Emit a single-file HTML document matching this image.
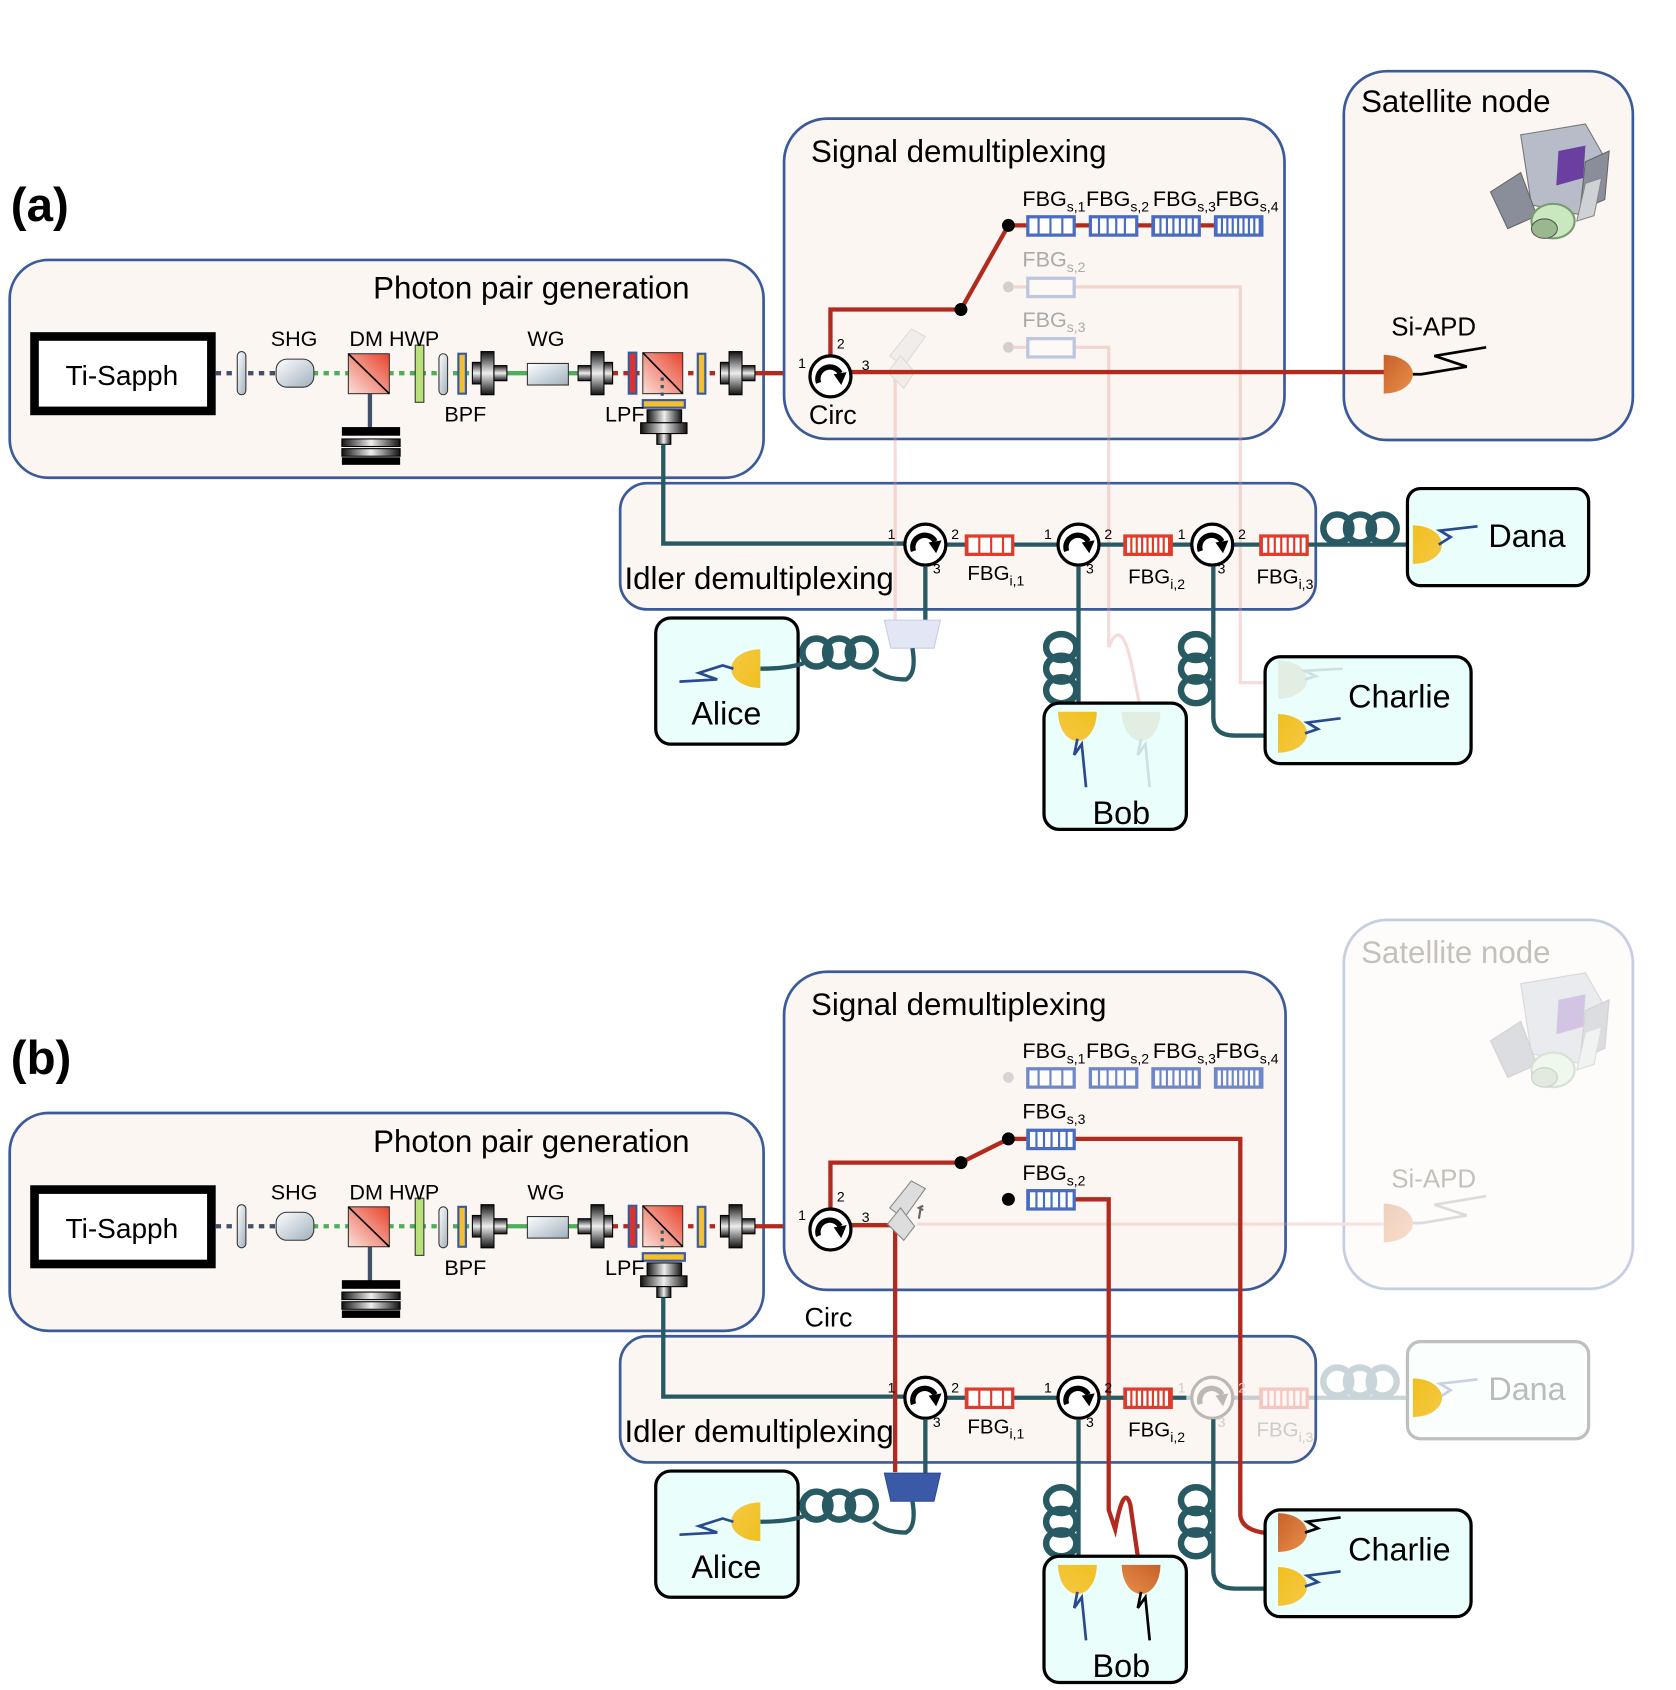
<!DOCTYPE html>
<html><head><meta charset="utf-8"><style>
html,body{margin:0;padding:0;background:#fff}
svg{display:block}
text{font-family:"Liberation Sans",sans-serif;fill:#000}
.t28{font-size:29px}.t20{font-size:20px}.t14{font-size:13px}
.gray{fill:#aaa}
</style></head><body>
<svg width="1676" height="1690" viewBox="0 0 1554 1567" preserveAspectRatio="none" xmlns="http://www.w3.org/2000/svg">
<defs>
<linearGradient id="cg" x1="0" y1="0" x2="0" y2="1"><stop offset="0" stop-color="#111"/><stop offset=".5" stop-color="#eee"/><stop offset="1" stop-color="#111"/></linearGradient>
<linearGradient id="hg" x1="0" y1="0" x2="1" y2="0"><stop offset="0" stop-color="#111"/><stop offset=".5" stop-color="#eee"/><stop offset="1" stop-color="#111"/></linearGradient>
<linearGradient id="cube" x1="0" y1="1" x2="1" y2="0"><stop offset="0" stop-color="#fbe0da"/><stop offset="1" stop-color="#e8432c"/></linearGradient>
<linearGradient id="lens" x1="0" y1="0" x2="1" y2="1"><stop offset="0" stop-color="#fff"/><stop offset="1" stop-color="#9fb0bd"/></linearGradient>
<linearGradient id="yel" x1="0" y1="0" x2="1" y2="1"><stop offset="0" stop-color="#f0c020"/><stop offset="1" stop-color="#f5c842"/></linearGradient>
<linearGradient id="org" x1="0" y1="0" x2="1" y2="1"><stop offset="0" stop-color="#c8602a"/><stop offset="1" stop-color="#e8904a"/></linearGradient>
<g id="coup"><rect x="0" y="-10" width="8" height="20" fill="url(#cg)" stroke="#000"/><rect x="8" y="-20" width="12" height="40" fill="url(#cg)" stroke="#000"/><rect x="20" y="-7" width="12" height="14" fill="url(#cg)" stroke="#000"/></g>
<g id="circ"><circle r="19" fill="#fff" stroke="#000" stroke-width="3"/><path d="M-11 6 A11 11 0 0 1 9 -3" fill="none" stroke="#000" stroke-width="5"/><path d="M3 -2 L15 -4 L10 8 Z" fill="#000"/></g>
<g id="hcoil" fill="none" stroke="#285a63" stroke-width="6"><ellipse cx="12" cy="0" rx="13" ry="13"/><ellipse cx="33" cy="0" rx="13" ry="13"/><ellipse cx="54" cy="0" rx="13" ry="13"/></g>
<g id="vcoil" fill="none" stroke="#285a63" stroke-width="6"><ellipse cx="0" cy="12" rx="14" ry="12"/><ellipse cx="0" cy="32" rx="14" ry="12"/><ellipse cx="0" cy="52" rx="14" ry="12"/></g>
<g id="photon">
 <rect x="9" y="241" width="699" height="202" rx="36" fill="#fcf6f2" stroke="#3a5a9a" stroke-width="2.5"/>
 <rect x="32" y="312" width="164" height="69" fill="#fff" stroke="#000" stroke-width="8"/>
 <line x1="200" y1="346" x2="255" y2="346" stroke="#445066" stroke-width="4" stroke-dasharray="5 5"/>
 <line x1="290" y1="346" x2="440" y2="346" stroke="#4caf5a" stroke-width="4" stroke-dasharray="5 5"/>
 <line x1="470" y1="346" x2="540" y2="346" stroke="#4caf5a" stroke-width="4"/>
 <line x1="568" y1="346" x2="668" y2="346" stroke="#b22a1e" stroke-width="4" stroke-dasharray="5 5"/>
 <line x1="700" y1="346" x2="752" y2="346" stroke="#b22a1e" stroke-width="4"/>
 <rect x="220" y="326" width="8" height="40" rx="4" fill="url(#lens)" stroke="#333"/>
 <rect x="256" y="333" width="35" height="26" rx="10" fill="url(#lens)" stroke="#333"/>
 <line x1="343" y1="350" x2="343" y2="398" stroke="#445066" stroke-width="4"/>
 <rect x="323" y="328" width="38" height="37" fill="url(#cube)" stroke="#333"/>
 <line x1="323" y1="328" x2="361" y2="365" stroke="#000" stroke-width="1.5"/>
 <rect x="317" y="396" width="54" height="8" fill="#000"/><rect x="317" y="407" width="54" height="7" fill="url(#hg)" stroke="#000"/><rect x="317" y="416" width="54" height="7" fill="url(#hg)" stroke="#000"/><rect x="317" y="424" width="54" height="7" fill="#000"/>
 <rect x="385" y="320" width="8" height="53" fill="#b9e07a" stroke="#333"/>
 <rect x="407" y="328" width="8" height="38" rx="4" fill="url(#lens)" stroke="#333"/>
 <rect x="425" y="328" width="7" height="37" fill="#f5c030" stroke="#3a5a9a" stroke-width="2"/>
 <use href="#coup" x="438" y="346"/>
 <rect x="489" y="337" width="38" height="20" fill="url(#lens)" stroke="#333"/>
 <use href="#coup" x="568" y="346" transform="rotate(180 568 346)"/>
 <rect x="583" y="327" width="7" height="38" fill="#e0302a" stroke="#3a5a9a" stroke-width="2"/>
 <rect x="596" y="327" width="37" height="38" fill="url(#cube)" stroke="#333"/>
 <line x1="596" y1="327" x2="633" y2="365" stroke="#000" stroke-width="1.5"/>
 <line x1="614" y1="350" x2="614" y2="370" stroke="#285a63" stroke-width="3" stroke-dasharray="3 4"/>
 <rect x="647" y="328" width="7" height="37" fill="#f5c030" stroke="#3a5a9a" stroke-width="2"/>
 <use href="#coup" x="668" y="346"/>
 <rect x="596" y="371" width="39" height="7" fill="#f5c030" stroke="#3a5a9a" stroke-width="2"/>
 <rect x="600" y="380" width="32" height="12" fill="url(#hg)" stroke="#000"/><rect x="594" y="392" width="43" height="10" fill="url(#hg)" stroke="#000"/><rect x="609" y="402" width="13" height="10" fill="url(#hg)" stroke="#000"/>
</g>
<g id="idlerbox">
 <rect x="575" y="448" width="645" height="117" rx="25" fill="#fcf6f2" stroke="#3a5a9a" stroke-width="2.5"/>
</g>
<g id="fbgb"><rect x="0" y="0" width="43" height="17" fill="#fff" stroke="#4a6cc0" stroke-width="3"/></g>
<g id="fbgr"><rect x="0" y="0" width="43" height="17" fill="#fff" stroke="#e03a2a" stroke-width="3"/></g>
<path id="det" d="M0 -18 A27 18 0 0 1 0 18 Z"/>
</defs>

<!-- ============ PANEL A ============ -->
<text x="10" y="205" style="font-size:44px;font-weight:bold">(a)</text>
<use href="#photon"/>
<text x="346" y="277" class="t28">Photon pair generation</text>
<text x="113" y="357" text-anchor="middle" style="font-size:26px">Ti-Sapph</text>
<text x="251" y="321" class="t20">SHG</text>
<text x="324" y="321" class="t20">DM HWP</text>
<text x="489" y="321" class="t20">WG</text>
<text x="412" y="391" class="t20">BPF</text>
<text x="561" y="391" class="t20">LPF</text>

<rect x="727" y="110" width="464" height="297" rx="40" fill="#fcf6f2" stroke="#3a5a9a" stroke-width="2.5"/>
<text x="752" y="150" class="t28">Signal demultiplexing</text>
<rect x="1246" y="66" width="268" height="342" rx="40" fill="#fcf6f2" stroke="#3a5a9a" stroke-width="2.5"/>
<text x="1262" y="104" class="t28">Satellite node</text>
<g id="sat">
<polygon points="1410,125 1470,115 1490,150 1470,200 1420,190" fill="#b8bcc8" stroke="#777"/>
<polygon points="1382,178 1410,160 1425,200 1398,212" fill="#8a8e9a" stroke="#666"/>
<polygon points="1470,150 1492,140 1488,185 1465,195" fill="#8a8e9a" stroke="#666"/>
<polygon points="1445,140 1470,135 1468,165 1443,172" fill="#6a3fa0"/>
<polygon points="1470,170 1485,165 1478,200 1462,205" fill="#cfd2d4" stroke="#888"/>
<ellipse cx="1440" cy="205" rx="20" ry="16" fill="#c9e8c0" stroke="#7a9a70" stroke-width="2"/>
<ellipse cx="1432" cy="212" rx="12" ry="9" fill="#9ab890" stroke="#555"/>
</g>
<text x="1290" y="311" style="font-size:24px">Si-APD</text>

<use href="#idlerbox"/>
<path d="M615 412 V504 H840" fill="none" stroke="#285a63" stroke-width="4"/>

<g opacity="0.35">
 <path d="M996 266 H1150 V633 H1185" fill="none" stroke="#e49a94" stroke-width="3"/>
 <path d="M996 322 H1028 V600 Q1040 570 1050 620 L1058 660" fill="none" stroke="#e49a94" stroke-width="3"/>
 <path d="M830 340 V575" fill="none" stroke="#e49a94" stroke-width="3"/>
 <circle cx="935" cy="266" r="5" fill="#888"/><circle cx="935" cy="322" r="5" fill="#888"/>
 <line x1="940" y1="266" x2="952" y2="266" stroke="#e49a94" stroke-width="3"/>
 <line x1="940" y1="322" x2="952" y2="322" stroke="#e49a94" stroke-width="3"/>
 <use href="#fbgb" x="953" y="258"/><use href="#fbgb" x="953" y="314"/>
 <polygon points="825,330 845,305 858,312 838,340" fill="#ddd" stroke="#aaa"/>
 <polygon points="823,345 835,330 848,345 838,360" fill="#ddd" stroke="#aaa"/>
</g>
<text x="948" y="247" class="t20 gray">FBG<tspan class="t14" dy="5">s,2</tspan></text>
<text x="948" y="303" class="t20 gray">FBG<tspan class="t14" dy="5">s,3</tspan></text>

<path d="M788 345 H1290" stroke="#b22a1e" stroke-width="4" fill="none"/>
<path d="M770 332 V287 H891 L935 209 H1170" stroke="#b22a1e" stroke-width="4" fill="none"/>
<circle cx="891" cy="287" r="6"/><circle cx="935" cy="209" r="6"/>
<use href="#fbgb" x="953" y="201"/><use href="#fbgb" x="1011" y="201"/><use href="#fbgb" x="1069" y="201"/><use href="#fbgb" x="1127" y="201"/>
<g stroke="#4a6cc0" stroke-width="2">
<line x1="963" y1="201" x2="963" y2="218"/><line x1="974" y1="201" x2="974" y2="218"/><line x1="985" y1="201" x2="985" y2="218"/>
<line x1="1019" y1="201" x2="1019" y2="218"/><line x1="1027" y1="201" x2="1027" y2="218"/><line x1="1035" y1="201" x2="1035" y2="218"/><line x1="1043" y1="201" x2="1043" y2="218"/>
</g>
<line x1="1069" y1="209.5" x2="1112" y2="209.5" stroke="#4a6cc0" stroke-width="15" stroke-dasharray="2 4"/>
<line x1="1127" y1="209.5" x2="1170" y2="209.5" stroke="#4a6cc0" stroke-width="15" stroke-dasharray="2 3"/>
<text x="948" y="191" class="t20">FBG<tspan class="t14" dy="5">s,1</tspan></text>
<text x="1007" y="191" class="t20">FBG<tspan class="t14" dy="5">s,2</tspan></text>
<text x="1069" y="191" class="t20">FBG<tspan class="t14" dy="5">s,3</tspan></text>
<text x="1127" y="191" class="t20">FBG<tspan class="t14" dy="5">s,4</tspan></text>
<use href="#circ" x="770" y="349"/>
<text x="740" y="341" style="font-size:13px">1</text><text x="776" y="323" style="font-size:13px">2</text><text x="799" y="343" style="font-size:13px">3</text>
<text x="750" y="393" style="font-size:25px">Circ</text>
<use href="#det" x="1283" y="347" fill="url(#org)"/>
<path d="M1310 347 H1318 L1360 340 L1330 330 L1378 322" fill="none" stroke="#000" stroke-width="2.5"/>

<!-- idler a -->
<path d="M840 505 H1310" stroke="#285a63" stroke-width="4"/>
<use href="#fbgr" x="896" y="497"/><use href="#fbgr" x="1043" y="497"/><use href="#fbgr" x="1169" y="497"/>
<line x1="896" y1="505.5" x2="939" y2="505.5" stroke="#e03a2a" stroke-width="15" stroke-dasharray="2 9"/>
<line x1="1043" y1="505.5" x2="1086" y2="505.5" stroke="#e03a2a" stroke-width="15" stroke-dasharray="2 3"/>
<line x1="1169" y1="505.5" x2="1212" y2="505.5" stroke="#e03a2a" stroke-width="15" stroke-dasharray="2 4"/>
<use href="#circ" x="858" y="505"/><use href="#circ" x="1000" y="505"/><use href="#circ" x="1124" y="505"/>
<g style="font-size:13px"><text x="823" y="500">1</text><text x="882" y="500">2</text><text x="865" y="532">3</text>
<text x="968" y="500">1</text><text x="1024" y="500">2</text><text x="1007" y="532">3</text>
<text x="1092" y="500">1</text><text x="1148" y="500">2</text><text x="1129" y="532">3</text></g>
<text x="897" y="538" style="font-size:19px">FBG<tspan class="t14" dy="5">i,1</tspan></text>
<text x="1046" y="541" style="font-size:19px">FBG<tspan class="t14" dy="5">i,2</tspan></text>
<text x="1165" y="541" style="font-size:19px">FBG<tspan class="t14" dy="5">i,3</tspan></text>
<text x="579" y="546" class="t28">Idler demultiplexing</text>
<use href="#hcoil" x="1228" y="490"/>
<rect x="1305" y="453" width="168" height="90" rx="12" fill="#eafffb" stroke="#000" stroke-width="3"/>
<use href="#det" x="1310" y="505" fill="url(#yel)"/>
<path d="M1334 505 L1345 498 L1335 492 L1370 488" fill="none" stroke="#2a4a90" stroke-width="2.5"/>
<text x="1380" y="507" style="font-size:30px">Dana</text>
<path d="M858 525 V575" stroke="#285a63" stroke-width="4"/>
<polygon points="820,575 872,575 866,601 826,601" fill="#e3e6f4" stroke="#c8cde6"/>
<path d="M846 601 Q850 625 840 630 Q820 630 810 620" fill="none" stroke="#285a63" stroke-width="4"/>
<use href="#hcoil" x="745" y="605"/>
<rect x="608" y="573" width="132" height="117" rx="14" fill="#eafffb" stroke="#000" stroke-width="3"/>
<path d="M745 615 Q730 620 705 620" fill="none" stroke="#285a63" stroke-width="4"/>
<use href="#det" x="705" y="620" fill="url(#yel)" transform="rotate(180 705 620)"/>
<path d="M680 620 L670 617 L648 624 L665 630 L630 632" fill="none" stroke="#2a4a90" stroke-width="2.5"/>
<text x="641" y="672" style="font-size:30px">Alice</text>
<path d="M1000 525 V660" stroke="#285a63" stroke-width="4"/>
<use href="#vcoil" x="984" y="588"/>
<rect x="968" y="652" width="132" height="117" rx="14" fill="#eafffb" stroke="#000" stroke-width="3"/>
<use href="#det" x="999" y="660" fill="url(#yel)" transform="rotate(90 999 660)"/>
<path d="M999 685 L996 700 L1003 690 L1007 730" fill="none" stroke="#2a4a90" stroke-width="2.5"/>
<g opacity="0.35"><use href="#det" x="1058" y="660" fill="#d8d0b8" transform="rotate(90 1058 660)"/><path d="M1058 685 L1055 700 L1062 690 L1066 730" fill="none" stroke="#9ab" stroke-width="2.5"/></g>
<text x="1013" y="764" style="font-size:30px">Bob</text>
<path d="M1125 525 V665 Q1125 682 1145 682 H1185" fill="none" stroke="#285a63" stroke-width="4"/>
<use href="#vcoil" x="1109" y="588"/>
<rect x="1173" y="609" width="191" height="99" rx="14" fill="#eafffb" stroke="#000" stroke-width="3"/>
<g opacity="0.35"><use href="#det" x="1185" y="630" fill="#d8d0b8"/><path d="M1210 630 L1220 627 L1210 622 L1245 620" fill="none" stroke="#9ab" stroke-width="2.5"/></g>
<use href="#det" x="1185" y="680" fill="url(#yel)"/>
<path d="M1210 680 L1222 676 L1212 670 L1243 666" fill="none" stroke="#2a4a90" stroke-width="2.5"/>
<text x="1250" y="656" style="font-size:30px">Charlie</text>

<!-- ============ PANEL B ============ -->
<text x="10" y="996" style="font-size:44px;font-weight:bold">(b)</text>
<use href="#photon" y="791"/>
<text x="346" y="1068" class="t28">Photon pair generation</text>
<text x="113" y="1148" text-anchor="middle" style="font-size:26px">Ti-Sapph</text>
<text x="251" y="1112" class="t20">SHG</text>
<text x="324" y="1112" class="t20">DM HWP</text>
<text x="489" y="1112" class="t20">WG</text>
<text x="412" y="1182" class="t20">BPF</text>
<text x="561" y="1182" class="t20">LPF</text>

<rect x="727" y="901" width="465" height="295" rx="40" fill="#fcf6f2" stroke="#3a5a9a" stroke-width="2.5"/>
<text x="752" y="941" class="t28">Signal demultiplexing</text>
<g opacity="0.3">
<rect x="1246" y="853" width="268" height="342" rx="40" fill="#fcf6f2" stroke="#3a5a9a" stroke-width="2.5"/>
<use href="#sat" y="787"/>
<use href="#det" x="1283" y="1134" fill="url(#org)"/>
<path d="M1310 1134 H1318 L1360 1127 L1330 1117 L1378 1109" fill="none" stroke="#888" stroke-width="2.5"/>
<path d="M850 1135 H1283" stroke="#e49a94" stroke-width="3"/>
</g>
<text x="1262" y="893" class="t28" style="fill:#c4c0bc">Satellite node</text>
<text x="1290" y="1101" style="font-size:24px;fill:#c4c0bc">Si-APD</text>
<g opacity="0.8">
<use href="#fbgb" x="953" y="991"/><use href="#fbgb" x="1011" y="991"/><use href="#fbgb" x="1069" y="991"/><use href="#fbgb" x="1127" y="991"/>
<g stroke="#4a6cc0" stroke-width="2">
<line x1="963" y1="991" x2="963" y2="1008"/><line x1="974" y1="991" x2="974" y2="1008"/><line x1="985" y1="991" x2="985" y2="1008"/>
<line x1="1019" y1="991" x2="1019" y2="1008"/><line x1="1027" y1="991" x2="1027" y2="1008"/><line x1="1035" y1="991" x2="1035" y2="1008"/><line x1="1043" y1="991" x2="1043" y2="1008"/></g>
<line x1="1069" y1="999.5" x2="1112" y2="999.5" stroke="#4a6cc0" stroke-width="15" stroke-dasharray="2 4"/>
<line x1="1127" y1="999.5" x2="1170" y2="999.5" stroke="#4a6cc0" stroke-width="15" stroke-dasharray="2 3"/>
<circle cx="935" cy="999" r="5" fill="#ccc"/>
</g>
<g class="t20 gray"><text x="948" y="981">FBG<tspan class="t14" dy="5">s,1</tspan></text><text x="1007" y="981">FBG<tspan class="t14" dy="5">s,2</tspan></text><text x="1069" y="981">FBG<tspan class="t14" dy="5">s,3</tspan></text><text x="1127" y="981">FBG<tspan class="t14" dy="5">s,4</tspan></text></g>

<use href="#idlerbox" y="791"/>
<path d="M615 1203 V1295 H840" fill="none" stroke="#285a63" stroke-width="4"/>

<path d="M770 1122 V1078 H891 L935 1056 H952" stroke="#b22a1e" stroke-width="4" fill="none"/>
<circle cx="891" cy="1078" r="6"/><circle cx="935" cy="1056" r="6"/><circle cx="935" cy="1112" r="6"/>
<path d="M996 1056 H1150 V1405 Q1152 1422 1185 1422" stroke="#b22a1e" stroke-width="4" fill="none"/>
<path d="M996 1112 H1028 V1400 L1034 1418 Q1042 1375 1048 1395 L1056 1450" stroke="#b22a1e" stroke-width="4" fill="none"/>
<path d="M788 1136 H830 V1365" stroke="#b22a1e" stroke-width="4" fill="none"/>
<polygon points="825,1120 845,1095 858,1102 838,1130" fill="#ddd" stroke="#888"/>
<polygon points="823,1135 835,1120 848,1137 838,1150" fill="#ddd" stroke="#888"/>
<path d="M852 1130 l2 -12 M856 1118 l-4 2 l4 2" stroke="#666" stroke-width="2" fill="none"/>
<use href="#fbgb" x="953" y="1048"/><use href="#fbgb" x="953" y="1104"/>
<line x1="953" y1="1056.5" x2="996" y2="1056.5" stroke="#4a6cc0" stroke-width="15" stroke-dasharray="2 5"/>
<line x1="953" y1="1112.5" x2="996" y2="1112.5" stroke="#4a6cc0" stroke-width="15" stroke-dasharray="2 5"/>
<text x="948" y="1037" class="t20">FBG<tspan class="t14" dy="5">s,3</tspan></text>
<text x="948" y="1094" class="t20">FBG<tspan class="t14" dy="5">s,2</tspan></text>
<use href="#circ" x="770" y="1140"/>
<text x="740" y="1131" style="font-size:13px">1</text><text x="776" y="1114" style="font-size:13px">2</text><text x="799" y="1133" style="font-size:13px">3</text>
<text x="746" y="1230" style="font-size:25px">Circ</text>

<path d="M840 1296 H1100" stroke="#285a63" stroke-width="4"/>
<use href="#fbgr" x="896" y="1288"/><use href="#fbgr" x="1043" y="1288"/>
<line x1="896" y1="1296.5" x2="939" y2="1296.5" stroke="#e03a2a" stroke-width="15" stroke-dasharray="2 9"/>
<line x1="1043" y1="1296.5" x2="1086" y2="1296.5" stroke="#e03a2a" stroke-width="15" stroke-dasharray="2 3"/>
<g opacity="0.25">
<path d="M1100 1296 H1310" stroke="#285a63" stroke-width="4"/>
<use href="#fbgr" x="1169" y="1288"/>
<line x1="1169" y1="1296.5" x2="1212" y2="1296.5" stroke="#e03a2a" stroke-width="15" stroke-dasharray="2 4"/>
<use href="#circ" x="1124" y="1296"/>
<use href="#hcoil" x="1228" y="1281"/>
<rect x="1305" y="1244" width="168" height="90" rx="12" fill="#eafffb" stroke="#000" stroke-width="3"/>
<path d="M1334 1296 L1345 1289 L1335 1283 L1370 1279" fill="none" stroke="#2a4a90" stroke-width="2.5"/>
</g>
<use href="#det" x="1310" y="1296" fill="url(#yel)"/>
<text x="1380" y="1298" style="font-size:30px;fill:#bbb">Dana</text>
<use href="#circ" x="858" y="1296"/><use href="#circ" x="1000" y="1296"/>
<g style="font-size:13px"><text x="823" y="1291">1</text><text x="882" y="1291">2</text><text x="865" y="1323">3</text>
<text x="968" y="1291">1</text><text x="1024" y="1291">2</text><text x="1007" y="1323">3</text>
<text x="1092" y="1291" style="fill:#ccc">1</text><text x="1148" y="1291" style="fill:#ccc">2</text><text x="1129" y="1323" style="fill:#ccc">3</text></g>
<text x="897" y="1329" style="font-size:19px">FBG<tspan class="t14" dy="5">i,1</tspan></text>
<text x="1046" y="1332" style="font-size:19px">FBG<tspan class="t14" dy="5">i,2</tspan></text>
<text x="1165" y="1332" style="font-size:19px;fill:#ccc">FBG<tspan class="t14" dy="5" style="fill:#ccc">i,3</tspan></text>
<text x="579" y="1337" class="t28">Idler demultiplexing</text>
<path d="M858 1316 V1366" stroke="#285a63" stroke-width="4"/>
<polygon points="820,1366 872,1366 866,1392 826,1392" fill="#3a5aa8" stroke="#2a4a90"/>
<path d="M846 1392 Q850 1416 840 1421 Q820 1421 810 1411" fill="none" stroke="#285a63" stroke-width="4"/>
<use href="#hcoil" x="745" y="1396"/>
<rect x="608" y="1364" width="132" height="117" rx="14" fill="#eafffb" stroke="#000" stroke-width="3"/>
<path d="M745 1406 Q730 1411 705 1411" fill="none" stroke="#285a63" stroke-width="4"/>
<use href="#det" x="705" y="1411" fill="url(#yel)" transform="rotate(180 705 1411)"/>
<path d="M680 1411 L670 1408 L648 1415 L665 1421 L630 1423" fill="none" stroke="#2a4a90" stroke-width="2.5"/>
<text x="641" y="1463" style="font-size:30px">Alice</text>
<path d="M1000 1316 V1451" stroke="#285a63" stroke-width="4"/>
<use href="#vcoil" x="984" y="1379"/>
<rect x="968" y="1443" width="132" height="117" rx="14" fill="#eafffb" stroke="#000" stroke-width="3"/>
<use href="#det" x="999" y="1451" fill="url(#yel)" transform="rotate(90 999 1451)"/>
<path d="M999 1476 L996 1491 L1003 1481 L1007 1521" fill="none" stroke="#2a4a90" stroke-width="2.5"/>
<use href="#det" x="1058" y="1451" fill="url(#org)" transform="rotate(90 1058 1451)"/>
<path d="M1058 1476 L1055 1491 L1062 1481 L1066 1521" fill="none" stroke="#000" stroke-width="2.5"/>
<text x="1013" y="1555" style="font-size:30px">Bob</text>
<path d="M1125 1316 V1456 Q1125 1473 1145 1473 H1185" fill="none" stroke="#285a63" stroke-width="4"/>
<use href="#vcoil" x="1109" y="1379"/>
<rect x="1173" y="1400" width="191" height="99" rx="14" fill="#eafffb" stroke="#000" stroke-width="3"/>
<use href="#det" x="1185" y="1421" fill="url(#org)"/>
<path d="M1210 1421 L1222 1417 L1212 1411 L1243 1407" fill="none" stroke="#000" stroke-width="2.5"/>
<use href="#det" x="1185" y="1471" fill="url(#yel)"/>
<path d="M1210 1471 L1222 1467 L1212 1461 L1243 1457" fill="none" stroke="#2a4a90" stroke-width="2.5"/>
<text x="1250" y="1447" style="font-size:30px">Charlie</text>
</svg>
</body></html>
